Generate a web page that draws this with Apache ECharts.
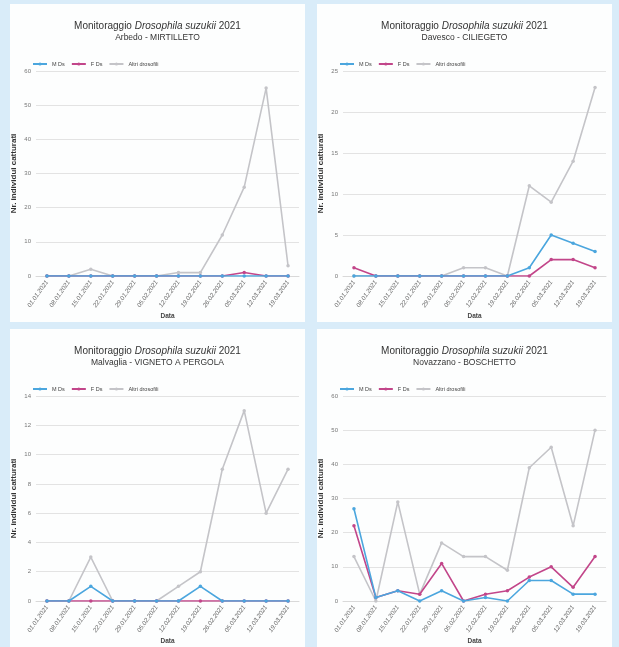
<!DOCTYPE html>
<html>
<head>
<meta charset="utf-8">
<script src="https://cdn.jsdelivr.net/npm/echarts@6/dist/echarts.min.js"></script>
<style>
  html, body { margin: 0; padding: 0; }
  body { width: 619px; height: 647px; background: #d9ecf9; position: relative; overflow: hidden; }
  .panel { position: absolute; background: #fdfefe; }
</style>
</head>
<body>
<div id="c1" class="panel" style="left:10px;top:4px;width:295px;height:318px"></div>
<div id="c2" class="panel" style="left:317px;top:4px;width:295px;height:318px"></div>
<div id="c3" class="panel" style="left:10px;top:329px;width:295px;height:318px"></div>
<div id="c4" class="panel" style="left:317px;top:329px;width:295px;height:318px"></div>
<script>
// date di campionamento (asse x comune ai 4 grafici)
const dates = ['01.01.2021','08.01.2021','15.01.2021','22.01.2021','29.01.2021','05.02.2021',
               '12.02.2021','19.02.2021','26.02.2021','05.03.2021','12.03.2021','19.03.2021'];

// Arbedo - MIRTILLETO
const arbedoM = [0,0,0,0,0,0,0,0,0,0,0,0];
const arbedoF = [0,0,0,0,0,0,0,0,0,1,0,0];
const arbedoAltri = [0,0,2,0,0,0,1,1,12,26,55,3];

// Davesco - CILIEGETO
const davescoM = [0,0,0,0,0,0,0,0,1,5,4,3];
const davescoF = [1,0,0,0,0,0,0,0,0,2,2,1];
const davescoAltri = [0,0,0,0,0,1,1,0,11,9,14,23];

// Malvaglia - VIGNETO A PERGOLA
const malvagliaM = [0,0,1,0,0,0,0,1,0,0,0,0];
const malvagliaF = [0,0,0,0,0,0,0,0,0,0,0,0];
const malvagliaAltri = [0,0,3,0,0,0,1,2,9,13,6,9];

// Novazzano - BOSCHETTO
const novazzanoM = [27,1,3,0,3,0,1,0,6,6,2,2];
const novazzanoF = [22,1,3,2,11,0,2,3,7,10,4,13];
const novazzanoAltri = [13,0,29,2,17,13,13,9,39,45,22,50];

const FONT = '"Liberation Sans Narrow", "Liberation Sans", Arial, sans-serif';
const colors = ['#4ba6de', '#c2468a', '#c4c4c8'];

const makeOption = (sub, max, interval, m, f, altri) => {
    const mk = (name, data, color, z) => ({
        name, type: 'line', data, z,
        symbol: 'circle', symbolSize: 3.5,
        lineStyle: {width: 1.6, color},
        itemStyle: {color},
        animation: false
    });
    return {
        textStyle: {fontFamily: FONT},
        title: {
            left: 'center', top: 12, itemGap: 2,
            text: '{n|Monitoraggio }{i|Drosophila suzukii}{n| 2021}',
            textStyle: {
                fontWeight: 'normal',
                rich: {
                    n: {fontSize: 10, color: '#333', fontWeight: 'normal', fontFamily: FONT},
                    i: {fontSize: 10, color: '#333', fontWeight: 'normal', fontStyle: 'italic', fontFamily: FONT}
                }
            },
            subtext: sub,
            subtextStyle: {fontSize: 8.5, color: '#333', fontFamily: FONT}
        },
        legend: {
            left: 17, top: 52, itemWidth: 14, itemHeight: 4, itemGap: 6,
            textStyle: {fontSize: 5.5, color: '#444', fontFamily: FONT},
            data: ['M Ds', 'F Ds', 'Altri drosofili']
        },
        grid: {left: 26, right: 6, top: 67, bottom: 46, outerBoundsMode: 'none', containLabel: false},
        xAxis: {
            type: 'category', data: dates, boundaryGap: true,
            name: 'Data', nameLocation: 'middle', nameGap: 37,
            nameTextStyle: {fontSize: 6.5, fontWeight: 'bold', color: '#444'},
            nameMoveOverlap: false,
            axisLine: {lineStyle: {color: '#d9d9d9'}},
            axisTick: {show: false},
            axisLabel: {rotate: 55, fontSize: 6.3, color: '#666', interval: 0, margin: 5, fontStyle: 'italic'}
        },
        yAxis: {
            type: 'value', min: 0, max, interval,
            name: 'Nr. individui catturati', nameLocation: 'middle', nameGap: 18,
            nameTextStyle: {fontSize: 8, fontWeight: 'bold', color: '#333'},
            nameMoveOverlap: false,
            axisLabel: {fontSize: 6, color: '#777', margin: 5},
            splitLine: {lineStyle: {color: '#dcdcdc', width: 0.8}}
        },
        series: [
            mk('M Ds', m, colors[0], 3),
            mk('F Ds', f, colors[1], 2),
            mk('Altri drosofili', altri, colors[2], 1)
        ]
    };
};

const initChart = (option, dom) => {
    let myChart = echarts.init(document.getElementById(dom));
    myChart.setOption(option);
};

initChart(makeOption('Arbedo - MIRTILLETO', 60, 10, arbedoM, arbedoF, arbedoAltri), 'c1');
initChart(makeOption('Davesco - CILIEGETO', 25, 5, davescoM, davescoF, davescoAltri), 'c2');
initChart(makeOption('Malvaglia - VIGNETO A PERGOLA', 14, 2, malvagliaM, malvagliaF, malvagliaAltri), 'c3');
initChart(makeOption('Novazzano - BOSCHETTO', 60, 10, novazzanoM, novazzanoF, novazzanoAltri), 'c4');
</script>
</body>
</html>
